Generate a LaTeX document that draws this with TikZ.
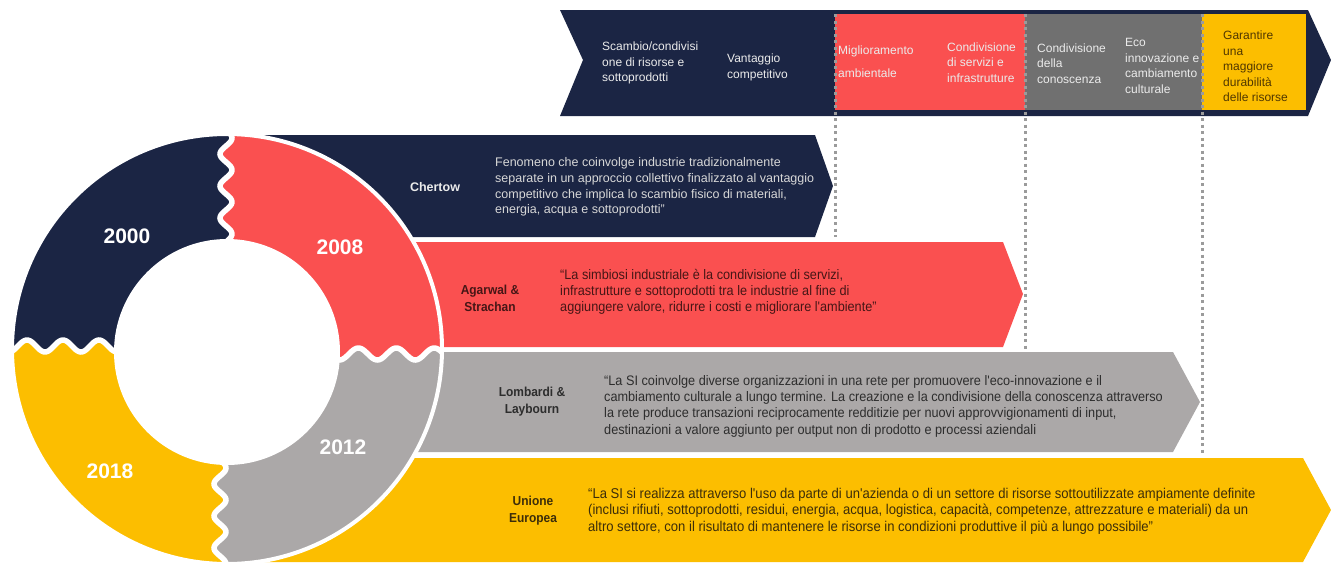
\documentclass[tikz,border=0pt]{standalone}
\usepackage{fontspec}
\setmainfont{Liberation Sans}
\newfontfamily\narrowfont[FakeStretch=0.92]{Liberation Sans}
\definecolor{navy}{RGB}{27,37,68}
\definecolor{ired}{RGB}{250,80,80}
\definecolor{igray}{RGB}{171,168,168}
\definecolor{dgray}{RGB}{112,112,112}
\definecolor{iyellow}{RGB}{252,190,0}
\definecolor{dotgray}{RGB}{155,155,155}
\definecolor{lighttxt}{RGB}{235,235,235}
\definecolor{browntxt}{RGB}{80,55,0}
\definecolor{redtxt}{RGB}{70,22,22}
\definecolor{graytxt}{RGB}{45,45,45}
\definecolor{yeltxt}{RGB}{60,45,10}
\tikzset{
  dotline/.style={draw=dotgray, line width=3pt, dash pattern=on 3pt off 3.5pt},
  bantext/.style={anchor=west, align=left, inner sep=0pt, text=lighttxt,
     font=\fontsize{12}{15.5}\selectfont},
  yearlbl/.style={text=white, font=\bfseries\fontsize{21}{21}\selectfont},
  rowtext/.style={anchor=west, align=left, inner sep=0pt,
     font=\narrowfont\fontsize{13.8}{16.3}\selectfont},
  rowlbl/.style={align=center, inner sep=0pt,
     font=\narrowfont\bfseries\fontsize{13}{17}\selectfont},
  cutline/.style={white, line width=5.5pt}
}
\begin{document}
\begin{tikzpicture}[x=1pt,y=-1pt]
\useasboundingbox (0,0) rectangle (1331,565);

% ---------- top banner ----------
\fill[navy] (560,10) -- (1308,10) -- (1331,60) -- (1308,116) -- (560,116) -- (583,60) -- cycle;
\fill[ired] (835,14) rectangle (1025,110);
\fill[dgray] (1025,14) rectangle (1202,110);
\fill[iyellow] (1202,14) rectangle (1306,110);

% ---------- rows ----------
\fill[navy] (227,135) -- (815,135) -- (833,186) -- (815,237) -- (227,237) -- cycle;
\fill[ired] (227,242) -- (1003,242) -- (1023,294) -- (1003,347) -- (227,347) -- cycle;
\fill[igray] (227,352) -- (1173,352) -- (1200,402) -- (1173,452) -- (227,452) -- cycle;
\fill[iyellow] (227,458) -- (1303,458) -- (1331,510) -- (1303,562) -- (227,562) -- cycle;

% ---------- dotted guides ----------
\draw[dotline] (835,14) -- (835,237);
\draw[dotline] (1025,14) -- (1025,350);
\draw[dotline] (1202,14) -- (1202,455);

% ---------- ring ----------
\begin{scope}
\clip (227,349) circle[radius=214pt];
\fill[iyellow] (0,130) rectangle (460,570);
\fill[navy] (0,130) -- (0,346)
  -- plot[domain=0:130, samples=80, variable=\t] ({\t},{346+6*sin(\t*10)})
  -- (227,350)
  -- plot[domain=250:130, samples=80, variable=\t] ({226+6*sin((\t-130)*11.25)},{\t})
  -- cycle;
\fill[ired] (460,130)
  -- plot[domain=130:250, samples=80, variable=\t] ({226+6*sin((\t-130)*11.25)},{\t})
  -- (227,350)
  -- plot[domain=330:460, samples=80, variable=\t] ({\t},{354+6*sin((\t-330)*9.5)})
  -- cycle;
\fill[igray] (460,570)
  -- plot[domain=460:330, samples=80, variable=\t] ({\t},{354+6*sin((\t-330)*9.5)})
  -- (227,350)
  -- plot[domain=460:570, samples=80, variable=\t] ({220+6*sin((\t-460)*11.25)},{\t})
  -- cycle;
\draw[cutline] plot[domain=0:130, samples=80, variable=\t] ({\t},{346+6*sin(\t*10)});
\draw[cutline] plot[domain=130:250, samples=80, variable=\t] ({226+6*sin((\t-130)*11.25)},{\t});
\draw[cutline] plot[domain=330:460, samples=80, variable=\t] ({\t},{354+6*sin((\t-330)*9.5)});
\draw[cutline] plot[domain=460:570, samples=80, variable=\t] ({220+6*sin((\t-460)*11.25)},{\t});
\end{scope}
\fill[white] (227,352) circle[radius=113pt];
\draw[white, line width=4pt] (227,349) circle[radius=215pt];

\node[yearlbl] (y2000) at (127,236) {2000};
\node[yearlbl] (y2008) at (340,247) {2008};
\node[yearlbl] (y2012) at (343,447) {2012};
\node[yearlbl] (y2018) at (110,471) {2018};

% ---------- banner texts ----------
\node[bantext] (b1) at (602,63) {Scambio/condivisi\\one di risorse e\\sottoprodotti};
\node[bantext] (b2) at (727,67.5) {Vantaggio\\competitivo};
\node[bantext, font=\fontsize{12}{23}\selectfont] (b3) at (838,61.5) {Miglioramento\\ambientale};
\node[bantext] (b4) at (947,62.5) {Condivisione\\di servizi e\\infrastrutture};
\node[bantext] (b5) at (1037,63.5) {Condivisione\\della\\conoscenza};
\node[bantext] (b6) at (1125,66) {Eco\\innovazione e\\cambiamento\\culturale};
\node[bantext, text=browntxt] (b7) at (1223,66.5) {Garantire\\una\\maggiore\\durabilità\\delle risorse};

% ---------- row texts ----------
\node[align=center, inner sep=0pt, text=lighttxt, font=\bfseries\fontsize{12.5}{14}\selectfont] (l1) at (435,187) {Chertow};
\node[anchor=west, align=left, inner sep=0pt, text={rgb,255:red,215;green,215;blue,215},
  font=\fontsize{12.5}{15.8}\selectfont] (t1) at (495,187)
  {Fenomeno che coinvolge industrie tradizionalmente\\separate in un approccio collettivo finalizzato al vantaggio\\competitivo che implica lo scambio fisico di materiali,\\energia, acqua e sottoprodotti”};

\node[rowlbl, text=redtxt] (l2) at (490,298.5) {Agarwal \&\\Strachan};
\node[rowtext, text=redtxt] (t2) at (560,292)
  {“La simbiosi industriale è la condivisione di servizi,\\infrastrutture e sottoprodotti tra le industrie al fine di\\aggiungere valore, ridurre i costi e migliorare l'ambiente”};

\node[rowlbl, text=graytxt] (l3) at (532,401.5) {Lombardi \&\\Laybourn};
\node[rowtext, text=graytxt] (t3) at (604,406)
  {“La SI coinvolge diverse organizzazioni in una rete per promuovere l'eco-innovazione e il\\cambiamento culturale a lungo termine. La creazione e la condivisione della conoscenza attraverso\\la rete produce transazioni reciprocamente redditizie per nuovi approvvigionamenti di input,\\destinazioni a valore aggiunto per output non di prodotto e processi aziendali};

\node[rowlbl, text=yeltxt] (l4) at (533,511) {Unione\\Europea};
\node[rowtext, text=yeltxt, font=\narrowfont\fontsize{14.2}{16.5}\selectfont] (t4) at (588,511)
  {“La SI si realizza attraverso l'uso da parte di un'azienda o di un settore di risorse sottoutilizzate ampiamente definite\\(inclusi rifiuti, sottoprodotti, residui, energia, acqua, logistica, capacità, competenze, attrezzature e materiali) da un\\altro settore, con il risultato di mantenere le risorse in condizioni produttive il più a lungo possibile”};
\end{tikzpicture}
\end{document}
